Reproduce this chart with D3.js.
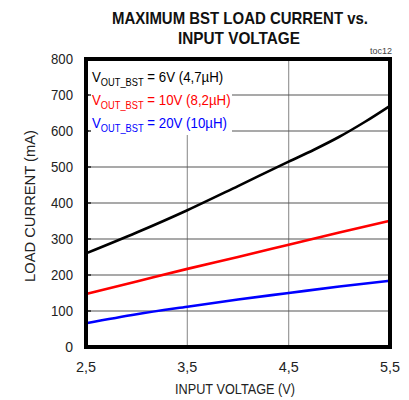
<!DOCTYPE html>
<html><head><meta charset="utf-8">
<script src="https://cdn.jsdelivr.net/npm/d3@7"></script>
<style>body{margin:0;background:#fff}svg{display:block;font-family:"Liberation Sans",Arial,sans-serif}</style>
</head><body>
<svg id="c" width="409" height="400"></svg>
<script>
const voltage6V = [2.5, 3.0, 3.5, 4.0, 4.5, 4.75, 5.0, 5.25, 5.5];
const current6V = [260, 318, 380, 447, 515, 548, 584, 625, 670];
const voltage = [2.5, 3.0, 3.5, 4.0, 4.5, 5.0, 5.5];
const current10V = [147, 182, 217, 250, 284, 318, 351];
const current20V = [66, 91, 112, 132, 150, 168, 184];
const xTicks = [2.5, 3.5, 4.5, 5.5];
const xTickLabels = ["2,5", "3,5", "4,5", "5,5"];
const yTicks = [0, 100, 200, 300, 400, 500, 600, 700, 800];
const legendLabels = [" = 6V (4,7µH)", " = 10V (8,2µH)", " = 20V (10µH)"];
const colors = ["#000000", "#ff0000", "#0000ff"];

const svg = d3.select("#c");
const L = 86, R = 390, T = 59, B = 347;
const x = d3.scaleLinear().domain([2.5, 5.5]).range([L, R]);
const y = d3.scaleLinear().domain([0, 800]).range([B, T]);

// vertical grid
svg.append("g").selectAll("line").data(xTicks.slice(1, -1)).join("line")
  .attr("x1", d => x(d)).attr("x2", d => x(d)).attr("y1", T).attr("y2", B)
  .attr("stroke", "#999").attr("stroke-width", 1.2);
// horizontal grid
svg.append("g").selectAll("line").data(yTicks.slice(1, -1)).join("line")
  .attr("x1", L).attr("x2", R).attr("y1", d => y(d)).attr("y2", d => y(d))
  .attr("stroke", "#555").attr("stroke-width", 1.2);

// legend white box
svg.append("rect").attr("x", 89).attr("y", 61).attr("width", 143).attr("height", 74).attr("fill", "#fff");

// inward ticks on left
svg.append("g").selectAll("line").data(yTicks).join("line")
  .attr("x1", L).attr("x2", L + 5).attr("y1", d => y(d)).attr("y2", d => y(d))
  .attr("stroke", "#000").attr("stroke-width", 1.2);

// lines
const line = d3.line().x(d => x(d[0])).y(d => y(d[1])).curve(d3.curveMonotoneX);
const series = [
  d3.zip(voltage6V, current6V),
  d3.zip(voltage, current10V),
  d3.zip(voltage, current20V)
];
svg.append("g").selectAll("path").data(series).join("path")
  .attr("d", line).attr("fill", "none")
  .attr("stroke", (d, i) => colors[i]).attr("stroke-width", 2.6);

// frame
svg.append("rect").attr("x", L).attr("y", T).attr("width", R - L).attr("height", B - T)
  .attr("fill", "none").attr("stroke", "#000").attr("stroke-width", 4);

// y tick labels
svg.append("g").selectAll("text").data(yTicks).join("text")
  .attr("x", 73).attr("y", d => y(d)).attr("dy", "0.36em")
  .attr("text-anchor", "end").attr("font-size", 14).attr("fill", "#222")
  .attr("textLength", 22).attr("lengthAdjust", "spacingAndGlyphs")
  .text(d => d).each(function(d){ if (String(d).length < 3) d3.select(this).attr("textLength", null); });

// x tick labels
svg.append("g").selectAll("text").data(xTicks).join("text")
  .attr("x", d => x(d)).attr("y", 372)
  .attr("text-anchor", "middle").attr("font-size", 14).attr("fill", "#222")
  .attr("textLength", 20).attr("lengthAdjust", "spacingAndGlyphs")
  .text((d, i) => xTickLabels[i]);

// axis titles
svg.append("text").attr("x", 235).attr("y", 394).attr("text-anchor", "middle")
  .attr("font-size", 14).attr("fill", "#222")
  .attr("textLength", 120).attr("lengthAdjust", "spacingAndGlyphs")
  .text("INPUT VOLTAGE (V)");
svg.append("text").attr("transform", "translate(35,206) rotate(-90)").attr("text-anchor", "middle")
  .attr("font-size", 14).attr("fill", "#222")
  .attr("textLength", 152).attr("lengthAdjust", "spacingAndGlyphs")
  .text("LOAD CURRENT (mA)");

// title
svg.append("text").attr("x", 240).attr("y", 24).attr("text-anchor", "middle")
  .attr("font-size", 17).attr("font-weight", "bold").attr("fill", "#111")
  .attr("textLength", 256).attr("lengthAdjust", "spacingAndGlyphs")
  .text("MAXIMUM BST LOAD CURRENT vs.");
svg.append("text").attr("x", 239).attr("y", 44).attr("text-anchor", "middle")
  .attr("font-size", 17).attr("font-weight", "bold").attr("fill", "#111")
  .attr("textLength", 122).attr("lengthAdjust", "spacingAndGlyphs")
  .text("INPUT VOLTAGE");
svg.append("text").attr("x", 392).attr("y", 54).attr("text-anchor", "end")
  .attr("font-size", 9).attr("fill", "#444").text("toc12");

// legend
const baselines = [82, 105, 128];
legendLabels.forEach((lab, i) => {
  const g = svg.append("g").attr("transform", `translate(92,${baselines[i]}) scale(0.885,1)`);
  const t = g.append("text").attr("x", 0).attr("y", 0)
    .attr("font-size", 15).attr("fill", colors[i]);
  t.append("tspan").text("V");
  t.append("tspan").attr("font-size", 10.5).attr("dy", 4).text("OUT_BST");
  t.append("tspan").attr("dy", -4).text(lab);
});
</script>
</body></html>
